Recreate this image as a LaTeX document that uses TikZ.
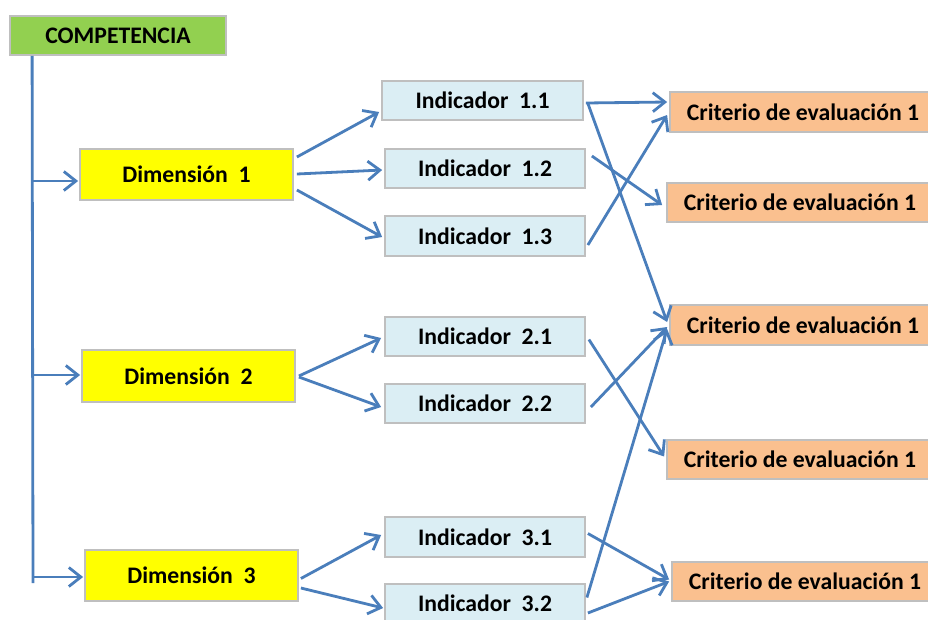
\documentclass[tikz,border=0pt]{standalone}
\usepackage{fontspec}
\setmainfont{Carlito}
\usetikzlibrary{arrows.meta}
\definecolor{compfill}{HTML}{92D050}
\definecolor{dimfill}{HTML}{FFFF00}
\definecolor{indfill}{HTML}{DBEEF4}
\definecolor{critfill}{HTML}{FAC08F}
\definecolor{boxline}{HTML}{BFBFBF}
\definecolor{link}{HTML}{4A7EBB}
\newcommand{\gap}{\hspace{0.45em}}
\begin{document}
\begin{tikzpicture}[x=1pt,y=-1pt,
  box/.style={draw=boxline,line width=1.8pt,inner sep=0pt,
    font=\fontsize{23.7}{28}\selectfont\bfseries,text=black},
  compbox/.style={box,fill=compfill,minimum width=216pt,minimum height=39pt},
  dimbox/.style={box,fill=dimfill,minimum width=213pt,minimum height=51pt},
  indbox/.style={box,fill=indfill,minimum width=200pt,minimum height=39pt},
  critbox/.style={box,fill=critfill,minimum width=266pt,minimum height=39pt},
  trunkline/.style={draw=link,line width=2.8pt},
  arr/.style={draw=link,line width=2.8pt,-{Straight Barb[length=12pt,width=19pt]}}]
\clip (0,0) rectangle (928,619);
\fill[white] (0,0) rectangle (928,619);

% competence and dimensions
\node[compbox] (comp) at (118,35.5) {COMPETENCIA};
\node[dimbox] (d1) at (186.5,174.5) {Dimensión\gap1};
\node[dimbox,minimum height=52pt] (d2) at (188.5,376) {Dimensión\gap2};
\node[dimbox] (d3) at (191.5,575.5) {Dimensión\gap3};

% indicators
\node[indbox,minimum width=201pt] (i11) at (482.5,100.5) {Indicador\gap1.1};
\node[indbox] (i12) at (485,168.5) {Indicador\gap1.2};
\node[indbox,minimum height=40pt] (i13) at (485,236) {Indicador\gap1.3};
\node[indbox] (i21) at (485,336.5) {Indicador\gap2.1};
\node[indbox] (i22) at (485,403.5) {Indicador\gap2.2};
\node[indbox,minimum height=40pt] (i31) at (485,537) {Indicador\gap3.1};
\node[indbox] (i32) at (485,603.5) {Indicador\gap3.2};

% evaluation criteria
\node[critbox,minimum height=40pt] (c1) at (803,112) {Criterio de evaluación 1};
\node[critbox] (c2) at (800,202.5) {Criterio de evaluación 1};
\node[critbox,minimum height=40pt] (c3) at (803,325) {Criterio de evaluación 1};
\node[critbox] (c4) at (800,459.5) {Criterio de evaluación 1};
\node[critbox] (c5) at (805,581.5) {Criterio de evaluación 1};

% vertical trunk from the competence to the dimensions
\coordinate (tend) at (33,583);
\draw[trunkline] ([shift={(23,0)}]comp.south west) -- (tend);
\draw[arr] ([shift={(-47,6.5)}]d1.west) -- ([shift={(-1,6.5)}]d1.west);
\draw[arr] ([shift={(-49,-1)}]d2.west) -- ([shift={(-1,-1)}]d2.west);
\draw[arr] ([shift={(-52,1.5)}]d3.west) -- ([shift={(-1,1.5)}]d3.west);

% dimensions to indicators
\draw[arr] ([shift={(3,-17.5)}]d1.east) -- ([shift={(-2,11.5)}]i11.west);
\draw[arr] ([shift={(3,-0.5)}]d1.east) -- ([shift={(-2,1.5)}]i12.west);
\draw[arr] ([shift={(3,15.5)}]d1.east) -- ([shift={(-2,1)}]i13.west);
\draw[arr] ([shift={(3,0)}]d2.east) -- ([shift={(-3,1.5)}]i21.west);
\draw[arr] ([shift={(3,1)}]d2.east) -- ([shift={(-3,3.5)}]i22.west);
\draw[arr] ([shift={(2,3)}]d3.east) -- ([shift={(-3,-2)}]i31.west);
\draw[arr] ([shift={(2,12.5)}]d3.east) -- ([shift={(-1,4.5)}]i32.west);

% indicators to evaluation criteria
\draw[arr] ([shift={(2,2.5)}]i11.east) -- ([shift={(-2,-10)}]c1.west);
\draw[arr] ([shift={(4,3)}]i11.east) -- ([shift={(-2,-3)}]c3.west);
\draw[arr] ([shift={(6,-12.5)}]i12.east) -- ([shift={(-4,2.5)}]c2.west);
\draw[arr] ([shift={(2,9)}]i13.east) -- ([shift={(-2,3)}]c1.west);
\draw[arr] ([shift={(3,3)}]i21.east) -- ([shift={(-2,-3)}]c4.west);
\draw[arr] ([shift={(5,3.5)}]i22.east) -- ([shift={(-2,2)}]c3.west);
\draw[arr] ([shift={(2,-3.5)}]i31.east) -- ([shift={(-2,-2)}]c5.west);
\draw[arr] ([shift={(2,9.5)}]i32.east) -- ([shift={(-2,0)}]c5.west);
\draw[arr] ([shift={(1,-6)}]i32.east) -- ([shift={(-2,4)}]c3.west);
\end{tikzpicture}
\end{document}
